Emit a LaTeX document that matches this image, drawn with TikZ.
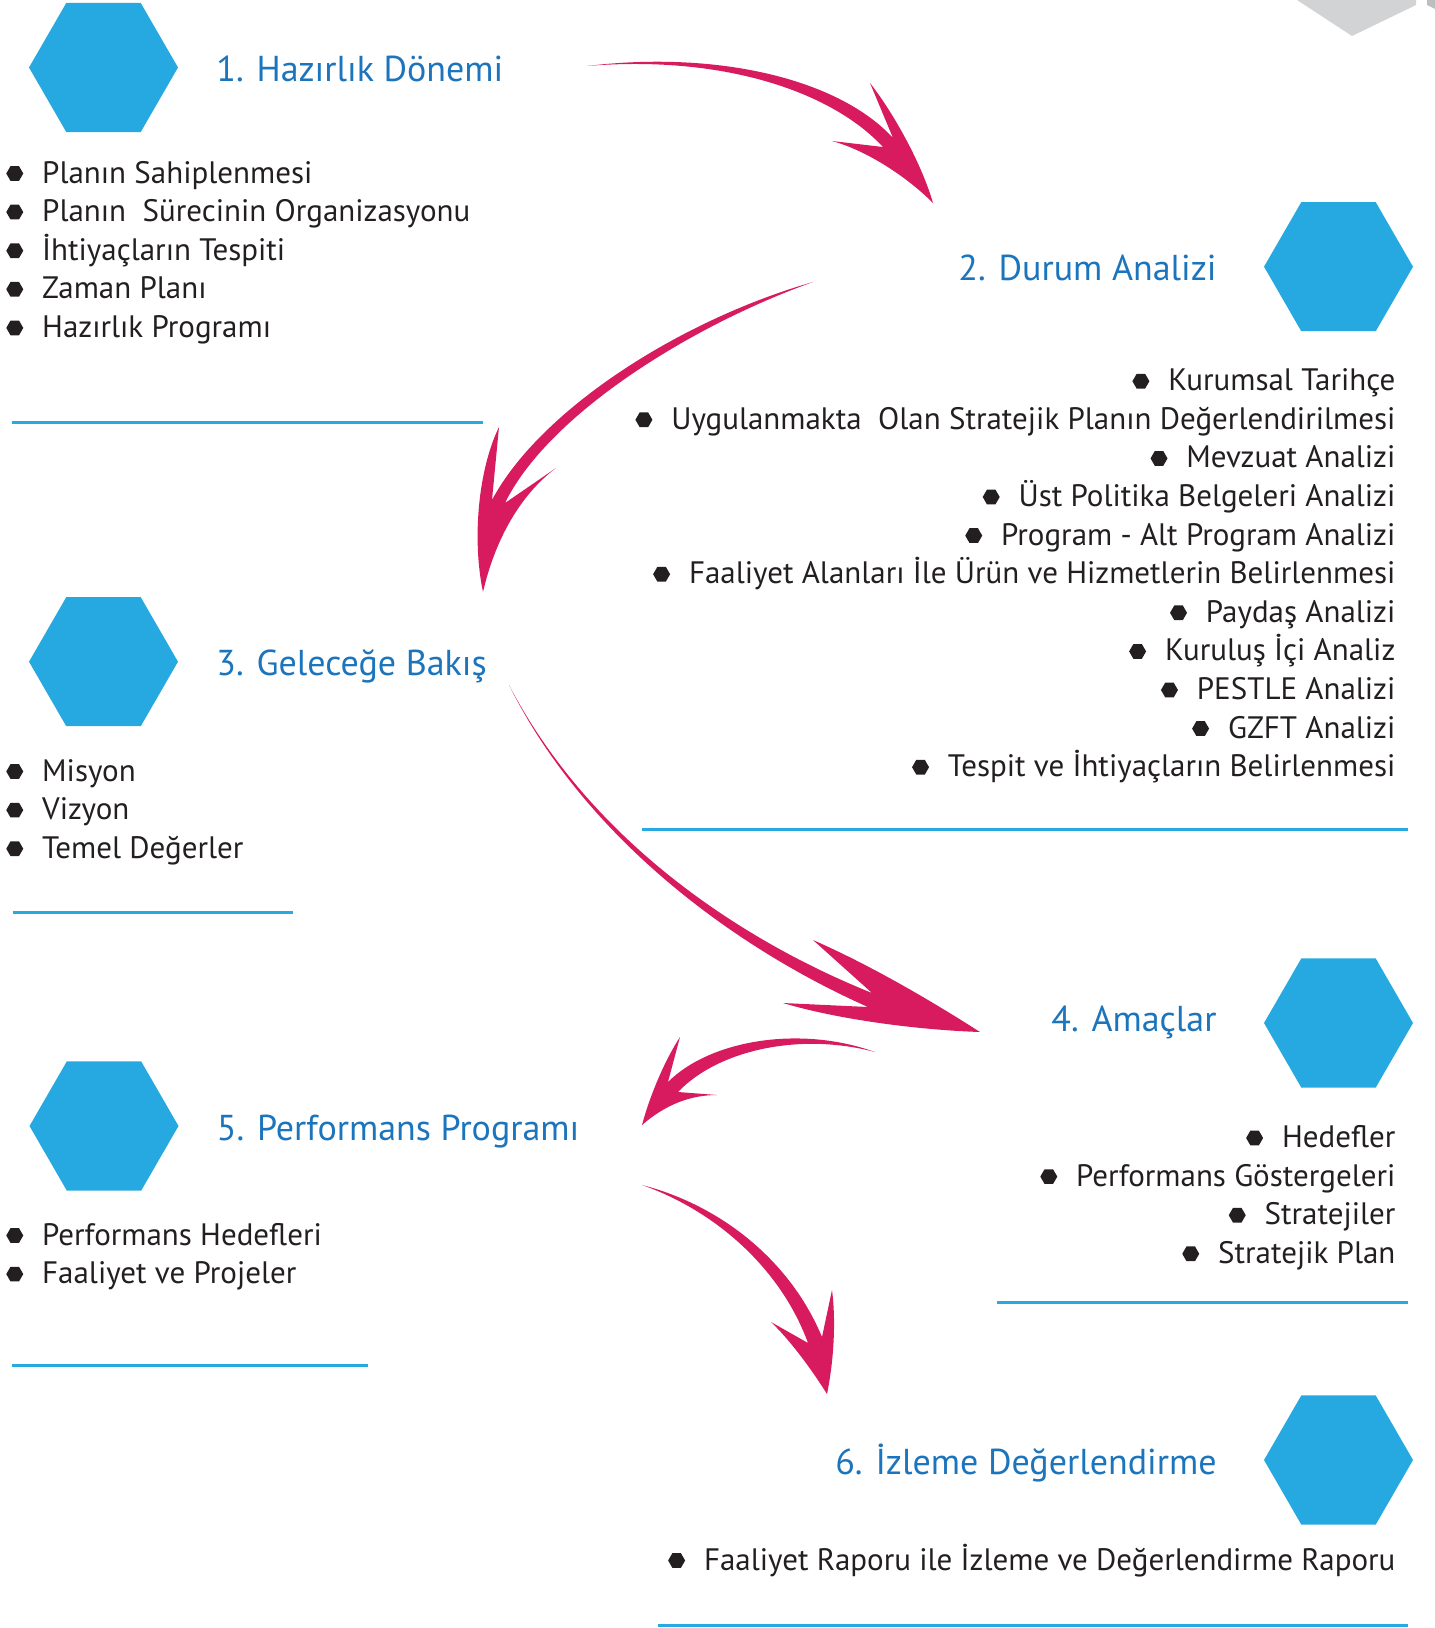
\documentclass[tikz,border=0pt]{standalone}
\usepackage{fontspec}
\setmainfont{PT Sans}
\usetikzlibrary{positioning, shapes.geometric}

\definecolor{hexblue}{RGB}{38,169,225}
\definecolor{titleblue}{RGB}{28,117,188}
\definecolor{lineblue}{RGB}{39,170,225}
\definecolor{arrowred}{RGB}{216,27,94}
\definecolor{textblack}{RGB}{35,31,32}
\definecolor{cornergray}{RGB}{209,211,212}
\definecolor{cornergraydark}{RGB}{188,190,192}

\tikzset{
  hexa/.style={regular polygon, regular polygon sides=6, fill=hexblue, minimum size=149pt, inner sep=0pt},
  hexdot/.style={regular polygon, regular polygon sides=6, fill=textblack, minimum size=17pt, inner sep=0pt},
  stagetitle/.style={text=titleblue, font=\fontsize{36}{43}\selectfont, inner sep=0pt, text height=34pt, text depth=6pt},
  listitem/.style={text=textblack, font=\fontsize{31}{37}\selectfont, inner sep=0pt, text height=24pt, text depth=5pt,
    label={[hexdot, label distance=18.5pt]left:{}}},
  lnext/.style={below=9.2pt of #1.south west, anchor=north west},
  rnext/.style={below=9.2pt of #1.south east, anchor=north east},
  sepline/.style={draw=lineblue, line width=3pt},
  swoosh/.style={fill=arrowred}
}

\begin{document}
\begin{tikzpicture}[x=1pt, y=-1pt]
        \useasboundingbox (0,0) rectangle (1435,1628);

        % corner pieces
        \fill[cornergray] (1297,0) -- (1352,36) -- (1416,5) -- (1416,0) -- cycle;
        \fill[cornergraydark] (1427,0) -- (1435,0) -- (1435,9) -- (1427,5) -- cycle;

        % 1
        \node[hexa] (h1) at (103.5,67.5) {};
        \node[stagetitle, right=38pt of h1] (t1) {1. Hazırlık Dönemi};
        \node[listitem, anchor=base west] (i11) at (42,183) {Planın Sahiplenmesi};
        \node[listitem, lnext=i11] (i12) {Planın~ Sürecinin Organizasyonu};
        \node[listitem, lnext=i12] (i13) {İhtiyaçların Tespiti};
        \node[listitem, lnext=i13] (i14) {Zaman Planı};
        \node[listitem, lnext=i14] (i15) {Hazırlık Programı};
        \draw[sepline] (12,422.7) -- (483,422.7);

        % 2
        \node[hexa] (h2) at (1338.5,266.7) {};
        \node[stagetitle, left=47pt of h2] (t2) {2. Durum Analizi};
        \node[listitem, anchor=base east] (i21) at (1395.6,390.7) {Kurumsal Tarihçe};
        \node[listitem, rnext=i21] (i22) {Uygulanmakta~ Olan Stratejik Planın Değerlendirilmesi};
        \node[listitem, rnext=i22] (i23) {Mevzuat Analizi};
        \node[listitem, rnext=i23] (i24) {Üst Politika Belgeleri Analizi};
        \node[listitem, rnext=i24] (i25) {Program - Alt Program Analizi};
        \node[listitem, rnext=i25] (i26) {Faaliyet Alanları İle Ürün ve Hizmetlerin Belirlenmesi};
        \node[listitem, rnext=i26] (i27) {Paydaş Analizi};
        \node[listitem, rnext=i27] (i28) {Kuruluş İçi Analiz};
        \node[listitem, rnext=i28] (i29) {PESTLE Analizi};
        \node[listitem, rnext=i29] (i210) {GZFT Analizi};
        \node[listitem, rnext=i210] (i211) {Tespit ve İhtiyaçların Belirlenmesi};
        \draw[sepline] (641.7,829.7) -- (1408,829.7);

        % 3
        \node[hexa] (h3) at (103.5,661.7) {};
        \node[stagetitle, right=38pt of h3] (t3) {3. Geleceğe Bakış};
        \node[listitem, anchor=base west] (i31) at (42,781) {Misyon};
        \node[listitem, lnext=i31] (i32) {Vizyon};
        \node[listitem, lnext=i32] (i33) {Temel Değerler};
        \draw[sepline] (12.5,912.8) -- (293,912.8);

        % 4
        \node[hexa] (h4) at (1338.5,1023) {};
        \node[stagetitle, left=47pt of h4, yshift=6pt] (t4) {4. Amaçlar};
        \node[listitem, anchor=base east] (i41) at (1395.6,1147.5) {Hedefler};
        \node[listitem, rnext=i41] (i42) {Performans Göstergeleri};
        \node[listitem, rnext=i42] (i43) {Stratejiler};
        \node[listitem, rnext=i43] (i44) {Stratejik Plan};
        \draw[sepline] (997,1302) -- (1408,1302);

        % 5
        \node[hexa] (h5) at (104,1126) {};
        \node[stagetitle, right=38pt of h5] (t5) {5. Performans Programı};
        \node[listitem, anchor=base west] (i51) at (42,1245) {Performans Hedefleri};
        \node[listitem, lnext=i51] (i52) {Faaliyet ve Projeler};
        \draw[sepline] (12,1365) -- (368,1365);

        % 6
        \node[hexa] (h6) at (1338.5,1460) {};
        \node[stagetitle, left=47pt of h6] (t6) {6. İzleme Değerlendirme};
        \node[listitem, anchor=base east] (i61) at (1395.6,1570) {Faaliyet Raporu ile İzleme ve Değerlendirme Raporu};
        \draw[sepline] (658,1625) -- (1408,1625);

        % swoosh arrows
        \coordinate (a1s) at (587,66);
        \coordinate (a1t) at (933,203);
        \fill[swoosh] (a1s) .. controls (720,50) and (840,80) .. (893,138) -- (870,83)
            .. controls (895,115) and (922,165) .. (a1t) .. controls (905,175) and (865,150) .. (832,141)
            -- (883,147) .. controls (830,90) and (720,55) .. (a1s) -- cycle;

        \coordinate (a2s) at (813,282);
        \coordinate (a2t) at (483,592);
        \fill[swoosh] (a2s) .. controls (680,320) and (540,410) .. (492,500) -- (499,427)
            .. controls (478,470) and (472,540) .. (a2t) .. controls (495,540) and (520,495) .. (556,468)
            -- (505,503) .. controls (548,415) and (690,326) .. (a2s) -- cycle;

        \coordinate (a3s) at (509,685);
        \coordinate (a3t) at (980,1032);
        \fill[swoosh] (a3s) .. controls (590,840) and (740,940) .. (872,993) -- (813,940)
            .. controls (870,965) and (930,1000) .. (a3t) .. controls (920,1030) and (840,1020) .. (783,1003)
            -- (868,1007) .. controls (735,948) and (585,838) .. (a3s) -- cycle;

        \coordinate (a4s) at (875,1052);
        \coordinate (a4t) at (642,1125);
        \fill[swoosh] (a4s) .. controls (800,1025) and (710,1040) .. (668,1082) -- (680,1037)
            .. controls (665,1060) and (650,1095) .. (a4t) .. controls (665,1105) and (690,1095) .. (717,1095)
            -- (678,1092) .. controls (718,1050) and (800,1032) .. (a4s) -- cycle;

        \coordinate (a5s) at (642,1185);
        \coordinate (a5t) at (827,1394);
        \fill[swoosh] (a5s) .. controls (720,1205) and (790,1260) .. (822,1337) -- (832,1290)
            .. controls (836,1320) and (834,1360) .. (a5t) .. controls (812,1370) and (790,1340) .. (771,1322)
            -- (808,1343) .. controls (781,1269) and (716,1211) .. (a5s) -- cycle;

    \end{tikzpicture}
\end{document}
